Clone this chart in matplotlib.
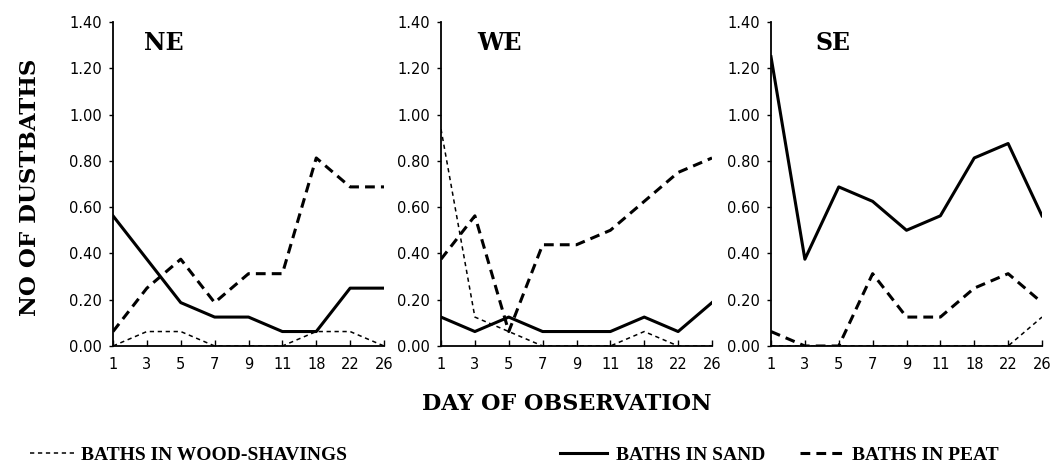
import matplotlib
matplotlib.use("Agg")
import matplotlib.pyplot as plt
from matplotlib.lines import Line2D

# Data (mean number of dustbaths per hen)
days = ["1", "3", "5", "7", "9", "11", "18", "22", "26"]
panels = ["NE", "WE", "SE"]

wood_ne = [0.0, 0.0625, 0.0625, 0.0, 0.0, 0.0, 0.0625, 0.0625, 0.0]
sand_ne = [0.5625, 0.375, 0.1875, 0.125, 0.125, 0.0625, 0.0625, 0.25, 0.25]
peat_ne = [0.0625, 0.25, 0.375, 0.1875, 0.3125, 0.3125, 0.8125, 0.6875, 0.6875]

wood_we = [0.9375, 0.125, 0.0625, 0.0, 0.0, 0.0, 0.0625, 0.0, 0.0]
sand_we = [0.125, 0.0625, 0.125, 0.0625, 0.0625, 0.0625, 0.125, 0.0625, 0.1875]
peat_we = [0.375, 0.5625, 0.0625, 0.4375, 0.4375, 0.5, 0.625, 0.75, 0.8125]

wood_se = [0.0, 0.0, 0.0, 0.0, 0.0, 0.0, 0.0, 0.0, 0.125]
sand_se = [1.25, 0.375, 0.6875, 0.625, 0.5, 0.5625, 0.8125, 0.875, 0.5625]
peat_se = [0.0625, 0.0, 0.0, 0.3125, 0.125, 0.125, 0.25, 0.3125, 0.1875]

wood = [wood_ne, wood_we, wood_se]
sand = [sand_ne, sand_we, sand_se]
peat = [peat_ne, peat_we, peat_se]

# Styles
wood_style = dict(color="black", lw=1.1, ls=(0, (2.8, 2.4)))
sand_style = dict(color="black", lw=2.2, ls="-")
peat_style = dict(color="black", lw=2.2, ls=(0, (3.2, 2.0)))

fig = plt.figure(figsize=(10.55, 4.75), dpi=100)

lefts = [113, 441, 771]
title_x = [0.115, 0.133, 0.166]
x = list(range(len(days)))
yt = [0, 0.2, 0.4, 0.6, 0.8, 1.0, 1.2, 1.4]

for i, name in enumerate(panels):
    ax = fig.add_axes([lefts[i] / 1055, 129 / 475, 271 / 1055, 324 / 475])
    ax.plot(x, wood[i], **wood_style)
    ax.plot(x, sand[i], **sand_style)
    ax.plot(x, peat[i], **peat_style)
    ax.set_xlim(0, 8)
    ax.set_ylim(0, 1.4)
    ax.set_xticks(x)
    ax.set_xticklabels(days)
    ax.set_yticks(yt)
    ax.set_yticklabels(["%.2f" % v for v in yt])
    ax.spines["top"].set_visible(False)
    ax.spines["right"].set_visible(False)
    ax.spines["left"].set_linewidth(1.3)
    ax.spines["bottom"].set_linewidth(1.3)
    ax.tick_params(axis="x", direction="in", length=4, width=1, pad=8, labelsize=10.5)
    ax.tick_params(axis="y", direction="out", length=3, width=1, pad=5, labelsize=10.5)
    ax.text(title_x[i], 0.935, name, transform=ax.transAxes, family="DejaVu Serif",
            fontweight="bold", fontsize=17, va="center", ha="left")

fig.text(0.028, 1 - 187 / 475, "NO OF DUSTBATHS", rotation=90, family="DejaVu Serif",
         fontweight="bold", fontsize=16.5, va="center", ha="center")
fig.text(567 / 1055, 1 - 404 / 475, "DAY OF OBSERVATION", family="DejaVu Serif",
         fontweight="bold", fontsize=16, va="center", ha="center")

# Legend entries placed separately, like the original
entries = [
    ("BATHS IN WOOD-SHAVINGS", wood_style, 30, 0.2),
    ("BATHS IN SAND", sand_style, 560, 0.5),
    ("BATHS IN PEAT", peat_style, 800, 0.3),
]
for label, style, xpos, pad in entries:
    h = Line2D([], [], **style)
    fig.legend([h], [label], loc="center left", bbox_to_anchor=(xpos / 1055, 1 - 455 / 475),
               frameon=False, handlelength=2.4, handletextpad=pad, borderaxespad=0,
               borderpad=0, prop=dict(family="Liberation Serif", weight="bold", size=14))

fig.savefig("out.png", dpi=100)
